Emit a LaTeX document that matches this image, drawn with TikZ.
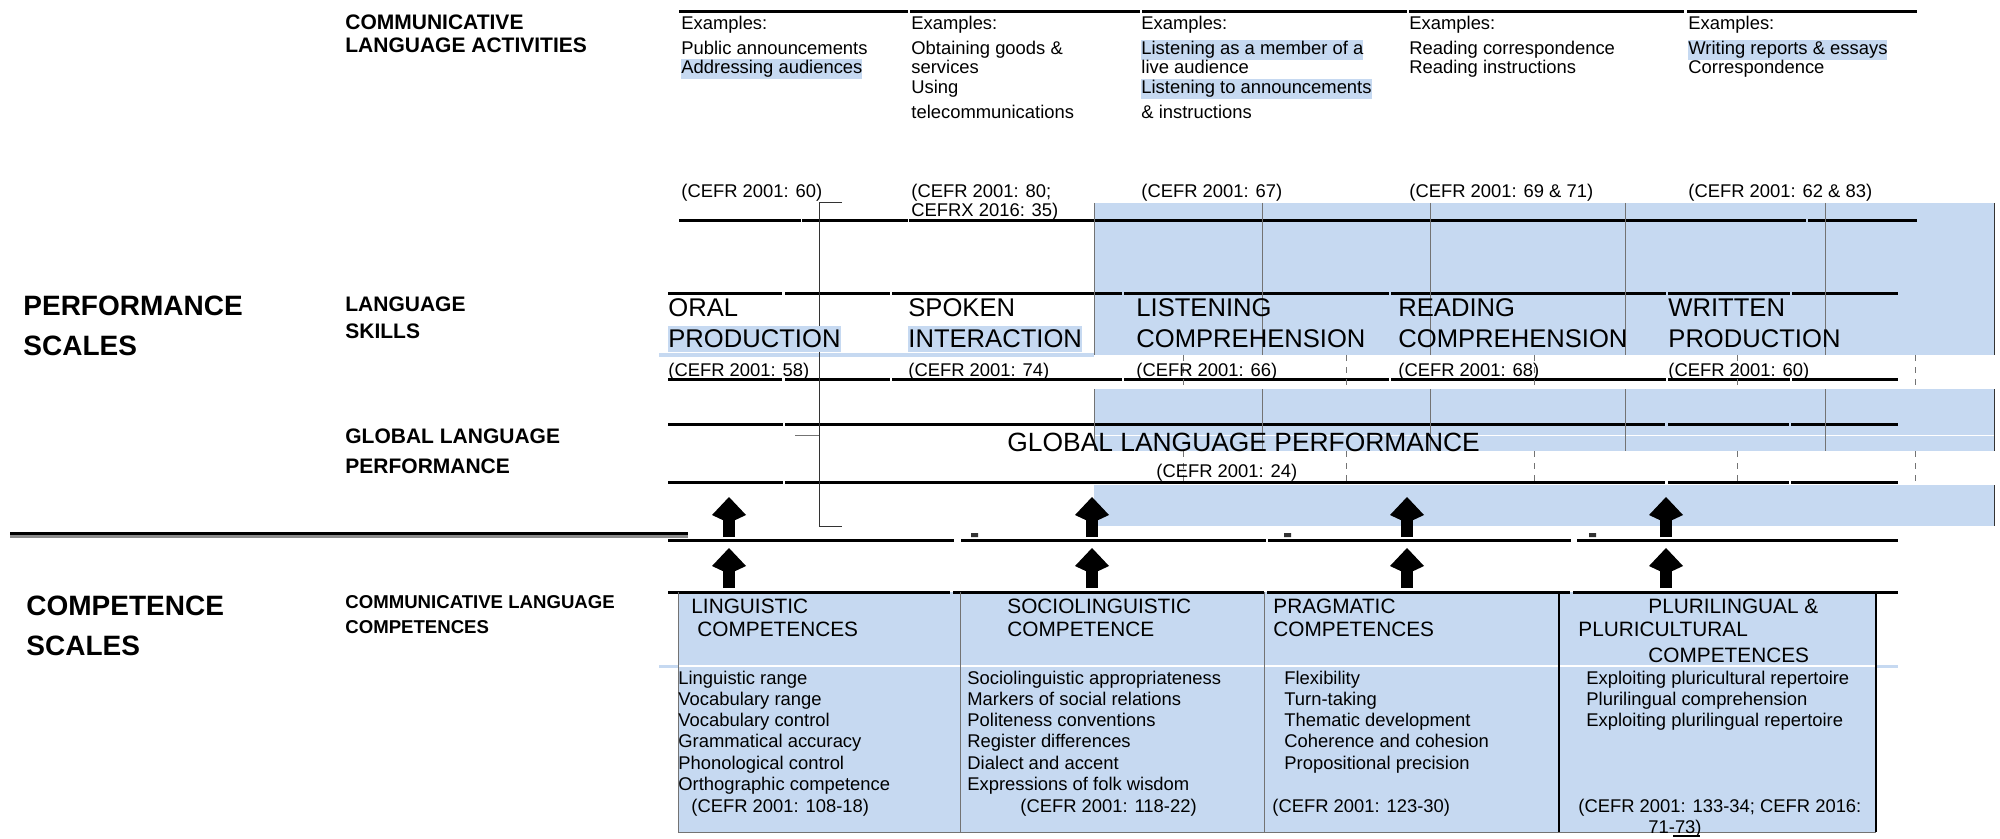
\documentclass[tikz,border=0pt]{standalone}
\usepackage{fontspec}
\setmainfont{Liberation Sans}
\usepackage{tikz}
\usetikzlibrary{arrows.meta}
\definecolor{hl}{HTML}{C6D9F1}

\begin{document}
\begin{tikzpicture}[x=0.5pt,y=-0.5pt,
every node/.style={inner sep=0pt,anchor=base west},
txt/.style={font=\fontsize{9.2}{11}\selectfont},
hdr/.style={font=\bfseries\fontsize{10.5}{12}\selectfont},
hdrs/.style={font=\bfseries\fontsize{9.3}{11}\selectfont},
big/.style={font=\bfseries\fontsize{14}{16}\selectfont},
skill/.style={font=\fontsize{12.8}{15}\selectfont},
comp/.style={font=\fontsize{10.4}{12}\selectfont},
hilite/.style={fill=hl,inner ysep=0.6pt},
rule/.style={line width=1.5pt},
vline/.style={line width=0.5pt,draw=black!55},
uparrow/.style={line width=6pt,-{Kite[width=17pt,length=13pt,inset=4pt]}}]
\useasboundingbox (0,0) rectangle (2000,839);

\fill[hl] (1094,203) rectangle (1994,355);
\fill[hl] (1094,389) rectangle (1994,451);
\fill[hl] (1094,485) rectangle (1994,526);
\fill[hl] (678,592) rectangle (1876,832);
\draw[white,line width=0.5pt] (1094,435) -- (1994,435);
\draw[hl,line width=1.5pt] (659,355) -- (1094,355);
\draw[white,line width=1pt] (678,666) -- (1876,666);
\draw[hl,line width=1.5pt] (659,666) -- (678,666) (1876,666) -- (1898,666);

\draw[rule] (679,12) -- (908,12) (910,12) -- (1140,12) (1142,12) -- (1407,12)
(1409,12) -- (1684,12) (1687,12) -- (1917,12);
\draw[rule] (679,221) -- (801,221) (802,221) -- (908,221) (909,221) -- (1806,221)
(1808,221) -- (1917,221);
\draw[rule] (668,294) -- (782,294) (785,294) -- (890,294) (892,294) -- (1122,294)
(1124,294) -- (1389,294) (1391,294) -- (1666,294) (1668,294) -- (1790,294) (1792,294) -- (1898,294);
\draw[rule] (668,379) -- (782,379) (785,379) -- (890,379) (892,379) -- (1122,379)
(1124,379) -- (1389,379) (1391,379) -- (1666,379) (1668,379) -- (1790,379) (1792,379) -- (1898,379);
\draw[rule] (668,424) -- (783,424) (785,424) -- (1665,424) (1668,424) -- (1789,424) (1791,424) -- (1898,424);
\draw[rule] (668,482) -- (783,482) (785,482) -- (1665,482) (1668,482) -- (1789,482) (1791,482) -- (1898,482);
\draw[rule] (668,540) -- (954,540) (961,540) -- (1266,540) (1268,540) -- (1571,540) (1577,540) -- (1898,540);
\draw[rule] (668,592) -- (950,592) (953,592) -- (1264,592) (1267,592) -- (1570,592) (1573,592) -- (1898,592);
\draw[line width=1.6pt,black!45] (10,536.2) -- (688,536.2);
\draw[line width=1.5pt] (10,533.2) -- (688,533.2);

\foreach \x in {1094,1262,1430,1625,1825}
\draw[vline] (\x,203) -- (\x,355) (\x,389) -- (\x,451);
\foreach \x in {1183,1346,1534,1737,1915}
\draw[vline] (\x,451) -- (\x,485) [dashed] (\x,355) -- (\x,389);
\draw[vline,draw=black!80] (1994,203) -- (1994,355) (1994,389) -- (1994,451) (1994,485) -- (1994,526);
\draw[vline,draw=black!80] (842,203) -- (819,203) -- (819,526) -- (842,526);
\draw[vline] (795,435) -- (819,435);
\draw[vline] (678,592) -- (678,832) (960,592) -- (960,832) (1264,592) -- (1264,832) (678,832) -- (1876,832);
\draw[line width=0.8pt] (1559,592) -- (1559,832) (1876,592) -- (1876,832);
\fill[black!80] (971,533) rectangle (978,537) (1284,533) rectangle (1291,537) (1589,533) rectangle (1596,537);
\draw[line width=0.6pt] (1673,836) -- (1700,836);

\node (cla1) [hdr] at (345,30) {COMMUNICATIVE};
\node (cla2) [hdr] at (345,53) {LANGUAGE ACTIVITIES};
\node (perf1) [big] at (23,315) {PERFORMANCE};
\node (perf2) [big] at (23,356) {SCALES};
\node (skl1) [hdr] at (345,312) {LANGUAGE};
\node (skl2) [hdr] at (345,339) {SKILLS};
\node (glp1) [hdr] at (345,443) {GLOBAL LANGUAGE};
\node (glp2) [hdr] at (345,473) {PERFORMANCE};
\node (cmp1) [big] at (26,615) {COMPETENCE};
\node (cmp2) [big] at (26,655) {SCALES};
\node (clc1) [hdrs] at (345,608) {COMMUNICATIVE LANGUAGE};
\node (clc2) [hdrs] at (345,633) {COMPETENCES};

\node (ex1) [txt] at (681,30) {Examples:};
\node (ex1a) [txt] at (681,55) {Public announcements};
\node (ex1b) [txt,hilite] at (681,74) {Addressing audiences};
\node (ref1) [txt] at (681,198) {(CEFR 2001: 60)};
\node (ex2) [txt] at (911,30) {Examples:};
\node (ex2a) [txt] at (911,55) {Obtaining goods \&};
\node (ex2b) [txt] at (911,74) {services};
\node (ex2c) [txt] at (911,94) {Using};
\node (ex2d) [txt] at (911,119) {telecommunications};
\node (ref2a) [txt] at (911,198) {(CEFR 2001: 80;};
\node (ref2b) [txt] at (911,217) {CEFRX 2016: 35)};
\node (ex3) [txt] at (1141,30) {Examples:};
\node (ex3a) [txt,hilite] at (1141,55) {Listening as a member of a};
\node (ex3b) [txt] at (1141,74) {live audience};
\node (ex3c) [txt,hilite] at (1141,94) {Listening to announcements};
\node (ex3d) [txt] at (1141,119) {\& instructions};
\node (ref3) [txt] at (1141,198) {(CEFR 2001: 67)};
\node (ex4) [txt] at (1409,30) {Examples:};
\node (ex4a) [txt] at (1409,55) {Reading correspondence};
\node (ex4b) [txt] at (1409,74) {Reading instructions};
\node (ref4) [txt] at (1409,198) {(CEFR 2001: 69 \& 71)};
\node (ex5) [txt] at (1688,30) {Examples:};
\node (ex5a) [txt,hilite] at (1688,55) {Writing reports \& essays};
\node (ex5b) [txt] at (1688,74) {Correspondence};
\node (ref5) [txt] at (1688,198) {(CEFR 2001: 62 \& 83)};

\node (oral1) [skill] at (668,317) {ORAL};
\node (oral2) [skill,hilite,inner ysep=2pt] at (668,348) {PRODUCTION};
\node (oralr) [txt] at (668,376) {(CEFR 2001: 58)};
\node (spok1) [skill] at (908,317) {SPOKEN};
\node (spok2) [skill,hilite,inner ysep=2pt] at (908,348) {INTERACTION};
\node (spokr) [txt] at (908,376) {(CEFR 2001: 74)};
\node (lis1) [skill] at (1136,317) {LISTENING};
\node (lis2) [skill] at (1136,348) {COMPREHENSION};
\node (lisr) [txt] at (1136,376) {(CEFR 2001: 66)};
\node (rea1) [skill] at (1398,317) {READING};
\node (rea2) [skill] at (1398,348) {COMPREHENSION};
\node (rear) [txt] at (1398,376) {(CEFR 2001: 68)};
\node (wri1) [skill] at (1668,317) {WRITTEN};
\node (wri2) [skill] at (1668,348) {PRODUCTION};
\node (wrir) [txt] at (1668,376) {(CEFR 2001: 60)};

\node (glob) [font=\fontsize{13.2}{15}\selectfont] at (1007,451) {GLOBAL LANGUAGE PERFORMANCE};
\node (globr) [txt] at (1156,477) {(CEFR 2001: 24)};

\node (ling1) [comp] at (691,613) {LINGUISTIC};
\node (ling2) [comp] at (697,636) {COMPETENCES};
\node (soc1) [comp] at (1007,613) {SOCIOLINGUISTIC};
\node (soc2) [comp] at (1007,636) {COMPETENCE};
\node (prag1) [comp] at (1273,613) {PRAGMATIC};
\node (prag2) [comp] at (1273,636) {COMPETENCES};
\node (plur1) [comp] at (1648,613) {PLURILINGUAL \&};
\node (plur2) [comp] at (1578,636) {PLURICULTURAL};
\node (plur3) [comp] at (1648,662) {COMPETENCES};

\foreach \t [count=\i] in {Linguistic range,Vocabulary range,Vocabulary control,
Grammatical accuracy,Phonological control,Orthographic competence}
\node (ling-\i) [txt] at (678,{684+21.3*(\i-1)}) {\t};
\foreach \t [count=\i] in {Sociolinguistic appropriateness,Markers of social relations,
Politeness conventions,Register differences,Dialect and accent,Expressions of folk wisdom}
\node (soc-\i) [txt] at (967,{684+21.3*(\i-1)}) {\t};
\foreach \t [count=\i] in {Flexibility,Turn-taking,Thematic development,
Coherence and cohesion,Propositional precision}
\node (prag-\i) [txt] at (1284,{684+21.3*(\i-1)}) {\t};
\foreach \t [count=\i] in {Exploiting pluricultural repertoire,Plurilingual comprehension,
Exploiting plurilingual repertoire}
\node (plur-\i) [txt] at (1586,{684+21.3*(\i-1)}) {\t};
\node (lingr) [txt] at (691,812) {(CEFR 2001: 108-18)};
\node (socr) [txt] at (1020,812) {(CEFR 2001: 118-22)};
\node (pragr) [txt] at (1272,812) {(CEFR 2001: 123-30)};
\node (plurr1) [txt] at (1578,812) {(CEFR 2001: 133-34; CEFR 2016:};
\node (plurr2) [txt] at (1648,833) {71-73)};

\coordinate (lo1) at (729,588); \coordinate (mi1) at (729,548);
\coordinate (up1) at (729,537); \coordinate (tp1) at (729,497);
\coordinate (lo2) at (1092,588); \coordinate (mi2) at (1092,548);
\coordinate (up2) at (1092,537); \coordinate (tp2) at (1092,497);
\coordinate (lo3) at (1407,588); \coordinate (mi3) at (1407,548);
\coordinate (up3) at (1407,537); \coordinate (tp3) at (1407,497);
\coordinate (lo4) at (1666,588); \coordinate (mi4) at (1666,548);
\coordinate (up4) at (1666,537); \coordinate (tp4) at (1666,497);
\draw[uparrow] (lo1) -- (mi1);
\draw[uparrow] (up1) -- (tp1);
\draw[uparrow] (lo2) -- (mi2);
\draw[uparrow] (up2) -- (tp2);
\draw[uparrow] (lo3) -- (mi3);
\draw[uparrow] (up3) -- (tp3);
\draw[uparrow] (lo4) -- (mi4);
\draw[uparrow] (up4) -- (tp4);
\end{tikzpicture}
\end{document}
